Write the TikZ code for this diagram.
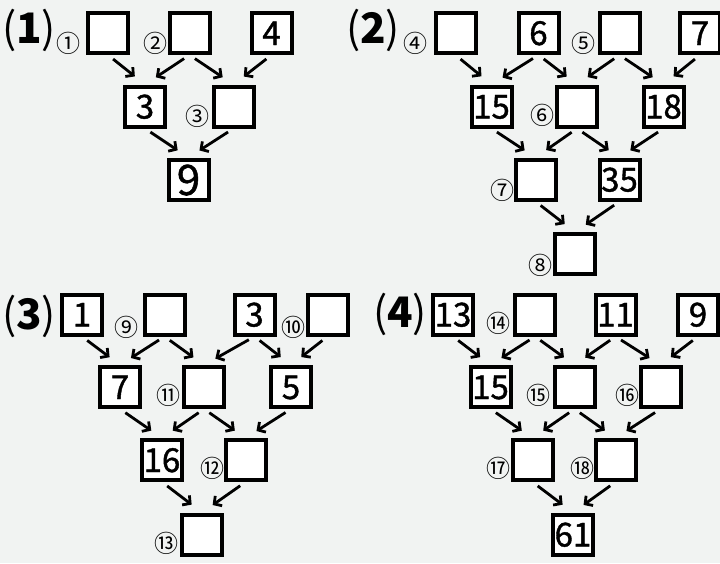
\documentclass[tikz,border=0pt]{standalone}
\usepackage{fontspec}
\setmainfont{Noto Sans CJK JP}
\newfontfamily\cellfont{Noto Sans CJK JP}[FakeBold=1.2]
\usepackage{xcolor}
\usetikzlibrary{arrows.meta}
\definecolor{paper}{RGB}{241,243,242}

\tikzset{
    cell/.style={draw, line width=4pt, fill=white, minimum size=40pt, inner sep=0pt,
                 font=\cellfont\fontsize{33}{33}\selectfont, text height=24pt, text depth=0pt},
    tag/.style={inner sep=0pt, font=\fontsize{24}{24}\selectfont},
    heading/.style={inner sep=0pt, font=\fontsize{42}{42}\selectfont},
    link/.style={line width=2.8pt, -{Straight Barb[length=5.5pt, width=12pt]},
                 shorten <=6.5pt, shorten >=13pt}
}

\begin{document}
\begin{tikzpicture}[x=1pt, y=-1pt]
    % Page
    \fill[paper] (0,0) rectangle (720,563);
    \useasboundingbox (0,0) rectangle (720,563);

    % (1)
    \node[heading] (h1) at (29,30) {(\textbf{1})};
    \node[cell] (p1a1) at (108,33) {};
    \node[cell] (p1a2) at (189.5,33) {};
    \node[cell] (p1a3) at (271.5,33) {4};
    \node[cell] (p1b1) at (145,106.5) {3};
    \node[cell] (p1b2) at (233.5,106.5) {};
    \node[cell, font=\cellfont\fontsize{42}{42}\selectfont, text height=31pt] (p1c1) at (188.5,179.5) {9};
    \node[tag] (t1) at (68,43) {①};
    \node[tag] (t2) at (155,43) {②};
    \node[tag] (t3) at (197,116) {③};

    % (2)
    \node[heading] (h2) at (373,30) {(\textbf{2})};
    \node[cell] (p2a1) at (455.5,33) {};
    \node[cell] (p2a2) at (538.5,33) {6};
    \node[cell] (p2a3) at (619.5,33) {};
    \node[cell] (p2a4) at (700,33) {7};
    \node[cell] (p2b1) at (491.5,106.5) {15};
    \node[cell] (p2b2) at (577,106.5) {};
    \node[cell] (p2b3) at (663.5,106.5) {18};
    \node[cell] (p2c1) at (535.5,179.5) {};
    \node[cell] (p2c2) at (619.5,179.5) {35};
    \node[cell] (p2d1) at (575,254) {};
    \node[tag] (t4) at (415,43) {④};
    \node[tag] (t5) at (583,43) {⑤};
    \node[tag] (t6) at (542,115) {⑥};
    \node[tag] (t7) at (502,190) {⑦};
    \node[tag] (t8) at (540,265) {⑧};

    % (3)
    \node[heading] (h3) at (29,316) {(\textbf{3})};
    \node[cell] (p3a1) at (82,314.5) {1};
    \node[cell] (p3a2) at (164.5,314.5) {};
    \node[cell] (p3a3) at (254.5,314.5) {3};
    \node[cell] (p3a4) at (327.5,314.5) {};
    \node[cell] (p3b1) at (120,387) {7};
    \node[cell] (p3b2) at (204,387) {};
    \node[cell] (p3b3) at (291,387) {5};
    \node[cell] (p3c1) at (162,460) {16};
    \node[cell] (p3c2) at (245.5,460) {};
    \node[cell] (p3d1) at (202,534.5) {};
    \node[tag] (t9) at (126,327) {⑨};
    \node[tag] (t10) at (293,327) {⑩};
    \node[tag] (t11) at (168,395) {⑪};
    \node[tag] (t12) at (212,468) {⑫};
    \node[tag] (t13) at (166,543) {⑬};

    % (4)
    \node[heading] (h4) at (400,314) {(\textbf{4})};
    \node[cell] (p4a1) at (453,314.5) {13};
    \node[cell] (p4a2) at (535,314.5) {};
    \node[cell] (p4a3) at (615.5,314.5) {11};
    \node[cell] (p4a4) at (698,314.5) {9};
    \node[cell] (p4b1) at (490.5,387) {15};
    \node[cell] (p4b2) at (574.5,387) {};
    \node[cell] (p4b3) at (660.5,387) {};
    \node[cell] (p4c1) at (532.5,460) {};
    \node[cell] (p4c2) at (615.5,460) {};
    \node[cell] (p4d1) at (573,534.5) {61};
    \node[tag] (t14) at (498,323) {⑭};
    \node[tag] (t15) at (538,395) {⑮};
    \node[tag] (t16) at (627,395) {⑯};
    \node[tag] (t17) at (498,468) {⑰};
    \node[tag] (t18) at (582,468) {⑱};

    % Arrows
    \foreach \p/\c in {a1/b1, a2/b1, a2/b2, a3/b2, b1/c1, b2/c1}
        \draw[link] (p1\p.south) -- (p1\c.north);
    \foreach \q in {2,3,4} {
        \foreach \p/\c in {a1/b1, a2/b1, a2/b2, a3/b2, a3/b3, a4/b3,
                           b1/c1, b2/c1, b2/c2, b3/c2, c1/d1, c2/d1}
            \draw[link] (p\q\p.south) -- (p\q\c.north);
    }

\end{tikzpicture}
\end{document}
